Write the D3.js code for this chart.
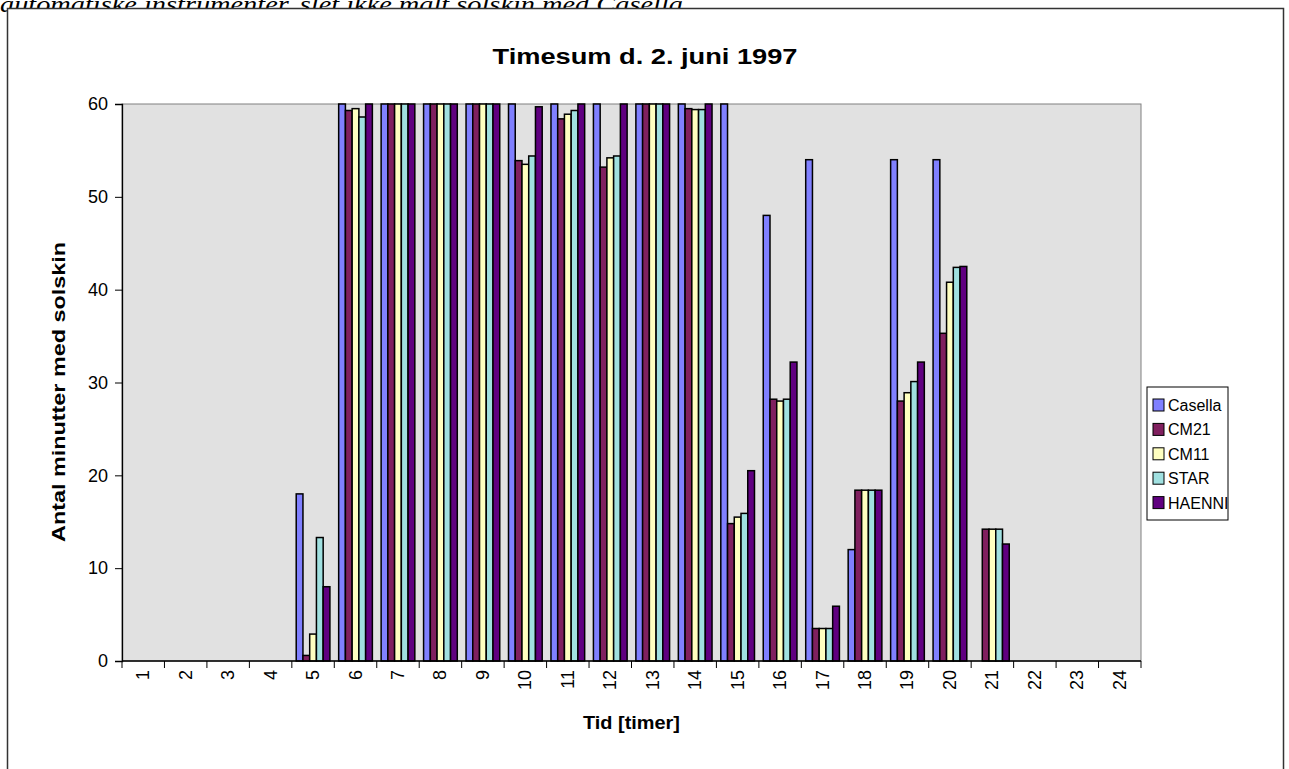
<!DOCTYPE html>
<html>
<head>
<meta charset="utf-8">
<script src="https://cdn.jsdelivr.net/npm/d3@7"></script>
<style>
	html, body { margin: 0; padding: 0; background: #fff; }
	svg { display: block; }
</style>
</head>
<body>
<svg id="chart" width="1289" height="769"></svg>
<script>
'use strict';

// hour labels on the x axis
var hours = ['1','2','3','4','5','6','7','8','9','10','11','12','13','14','15','16','17','18','19','20','21','22','23','24'];
var yTicks = [0, 10, 20, 30, 40, 50, 60];

// minutes of sunshine per hour, one array per instrument
var casella = [0,0,0,0,18,60,60,60,60,60,60,60,60,60,60,48,54,12,54,54,0,0,0,0];
var cm21    = [0,0,0,0,0.6,59.3,60,60,60,53.9,58.4,53.2,60,59.5,14.8,28.2,3.5,18.4,28.0,35.3,14.2,0,0,0];
var cm11    = [0,0,0,0,2.9,59.5,60,60,60,53.5,58.9,54.2,60,59.4,15.5,28.0,3.5,18.4,28.9,40.8,14.2,0,0,0];
var star    = [0,0,0,0,13.3,58.6,60,60,60,54.4,59.3,54.4,60,59.4,15.9,28.2,3.5,18.4,30.1,42.4,14.2,0,0,0];
var haenni  = [0,0,0,0,8.0,60,60,60,60,59.7,60,60,60,60,20.5,32.2,5.9,18.4,32.2,42.5,12.6,0,0,0];

var seriesNames = ['Casella', 'CM21', 'CM11', 'STAR', 'HAENNI'];
var seriesData = [casella, cm21, cm11, star, haenni];
var colors = ['#8080ff', '#80205f', '#ffffc0', '#a0e0e0', '#600080'];

var svg = d3.select('#chart');
var font = '"Liberation Sans", Arial, sans-serif';

var plot = {left: 122, right: 1141, top: 104, bottom: 661};

// text cut off at the top (from the surrounding document)
svg.append('text')
	.attr('x', 0)
	.attr('y', 12)
	.attr('font-family', '"Liberation Serif", "Times New Roman", serif')
	.attr('font-style', 'italic')
	.attr('font-size', 24)
	.attr('textLength', 690)
	.attr('lengthAdjust', 'spacingAndGlyphs')
	.text('automatiske instrumenter, slet ikke målt solskin med Casella.');

// outer frame
svg.append('rect')
	.attr('x', 7.5)
	.attr('y', 8.5)
	.attr('width', 1276)
	.attr('height', 780)
	.attr('fill', '#fff')
	.attr('stroke', '#333')
	.attr('stroke-width', 1.5);

svg.append('text')
	.attr('x', 645)
	.attr('y', 64)
	.attr('text-anchor', 'middle')
	.attr('font-family', font)
	.attr('font-weight', 'bold')
	.attr('font-size', 22)
	.attr('textLength', 305)
	.attr('lengthAdjust', 'spacingAndGlyphs')
	.text('Timesum d. 2. juni 1997');

var x = d3.scaleBand()
	.domain(hours)
	.range([plot.left, plot.right]);

var xs = d3.scaleBand()
	.domain(seriesNames)
	.range([0, x.bandwidth()])
	.paddingOuter(0.65);

var y = d3.scaleLinear()
	.domain([0, 60])
	.range([plot.bottom, plot.top]);

// plot background
svg.append('rect')
	.attr('x', plot.left)
	.attr('y', plot.top)
	.attr('width', plot.right - plot.left)
	.attr('height', plot.bottom - plot.top)
	.attr('fill', '#e1e1e1')
	.attr('stroke', '#808080')
	.attr('stroke-width', 1);

var groups = svg.append('g')
	.selectAll('g')
	.data(seriesNames)
	.enter()
	.append('g')
		.attr('fill', function(d, i) { return colors[i]; });

groups.selectAll('rect')
	.data(function(d, i) {
		return seriesData[i].map(function(v, j) {
			return {name: d, hour: hours[j], value: v};
		}).filter(function(e) { return e.value > 0; });
	})
	.enter()
	.append('rect')
		.attr('x', function(d) { return x(d.hour) + xs(d.name); })
		.attr('y', function(d) { return y(d.value); })
		.attr('width', xs.bandwidth())
		.attr('height', function(d) { return y(0) - y(d.value); })
		.attr('stroke', '#000')
		.attr('stroke-width', 1.5);

// y axis
var yAxis = svg.append('g')
	.attr('transform', 'translate(' + plot.left + ',0)')
	.call(d3.axisLeft(y).tickValues(yTicks).tickSize(7).tickPadding(7));
yAxis.select('.domain').attr('stroke', '#000').attr('stroke-width', 1.3);
yAxis.selectAll('text')
	.attr('font-family', font)
	.attr('font-size', 18)
	.attr('fill', '#000');

// x axis: ticks between the hours, labels turned
var xAxis = svg.append('g')
	.attr('transform', 'translate(0,' + plot.bottom + ')');
xAxis.append('line')
	.attr('x1', plot.left)
	.attr('x2', plot.right)
	.attr('stroke', '#000')
	.attr('stroke-width', 1.3);
xAxis.selectAll('line.tick')
	.data(hours.concat(['end']))
	.enter()
	.append('line')
		.attr('class', 'tick')
		.attr('x1', function(d, i) { return plot.left + i * x.step(); })
		.attr('x2', function(d, i) { return plot.left + i * x.step(); })
		.attr('y1', 0)
		.attr('y2', 7)
		.attr('stroke', '#000');
xAxis.selectAll('text')
	.data(hours)
	.enter()
	.append('text')
		.attr('transform', function(d) {
			return 'translate(' + (x(d) + x.bandwidth() / 2 + 6) + ',9) rotate(-90)';
		})
		.attr('text-anchor', 'end')
		.attr('font-family', font)
		.attr('font-size', 18)
		.text(function(d) { return d; });

svg.append('text')
	.attr('x', (plot.left + plot.right) / 2)
	.attr('y', 729)
	.attr('text-anchor', 'middle')
	.attr('font-family', font)
	.attr('font-weight', 'bold')
	.attr('font-size', 19)
	.attr('textLength', 97)
	.attr('lengthAdjust', 'spacingAndGlyphs')
	.text('Tid [timer]');

svg.append('text')
	.attr('transform', 'translate(65,392) rotate(-90)')
	.attr('text-anchor', 'middle')
	.attr('font-family', font)
	.attr('font-weight', 'bold')
	.attr('font-size', 19)
	.attr('textLength', 300)
	.attr('lengthAdjust', 'spacingAndGlyphs')
	.text('Antal minutter med solskin');

// legend
var legend = svg.append('g')
	.attr('transform', 'translate(1147,387)');
legend.append('rect')
	.attr('width', 81)
	.attr('height', 133)
	.attr('fill', '#fff')
	.attr('stroke', '#000');
var items = legend.selectAll('g.item')
	.data(seriesNames)
	.enter()
	.append('g')
		.attr('class', 'item')
		.attr('transform', function(d, i) { return 'translate(6,' + (18 + i * 24.4) + ')'; });
items.append('rect')
	.attr('x', 0)
	.attr('y', -6)
	.attr('width', 11)
	.attr('height', 12)
	.attr('fill', function(d, i) { return colors[i]; })
	.attr('stroke', '#000');
items.append('text')
	.attr('x', 15)
	.attr('y', 6)
	.attr('font-family', font)
	.attr('font-size', 16)
	.text(function(d) { return d; });
</script>
</body>
</html>
